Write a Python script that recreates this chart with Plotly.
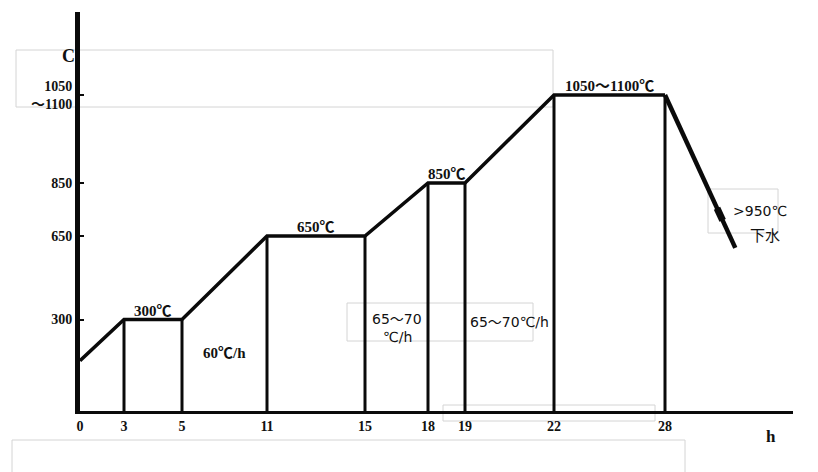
import numpy as np
import plotly.graph_objects as go

# ---------------- data ----------------
time_ticks = [0, 3, 5, 11, 15, 18, 19, 22, 28]
time_labels = ["0", "3", "5", "11", "15", "18", "19", "22", "28"]

temp_ticks = [300, 650, 850, 1075]
temp_labels = ["300", "650", "850", "1050<br>～1100"]

profile_time = [0, 3, 5, 11, 15, 18, 19, 22, 28, 31.8]
profile_temp = [165, 300, 300, 650, 650, 850, 850, 1075, 1075, 600]

hold_times = [3, 5, 11, 15, 18, 19, 22, 28]

plateau_labels = [(3, 5, 300, "300℃"), (11, 15, 650, "650℃"),
                  (18, 19, 850, "850℃"), (22, 28, 1075, "1050～1100℃")]

# ---------------- schematic (not-to-scale) axis scales ----------------
# The original drawing is a schematic; hours and degrees are placed at these
# drawn positions (plot units), values in between are interpolated.
X_ANCHOR = [0, 44, 102, 187, 285, 348, 385, 474, 585]
T_ANCHOR = [0, 300, 650, 850, 1075]
Y_ANCHOR = [0, 91.5, 175, 228, 316]


def sx(t):
    t = np.asarray(t, dtype=float)
    slope = (X_ANCHOR[-1] - X_ANCHOR[-2]) / (time_ticks[-1] - time_ticks[-2])
    inside = np.interp(t, time_ticks, X_ANCHOR)
    return np.where(t > time_ticks[-1], X_ANCHOR[-1] + (t - time_ticks[-1]) * slope, inside)


def sy(v):
    v = np.asarray(v, dtype=float)
    return np.interp(v, T_ANCHOR, Y_ANCHOR)


# plot frame in pixels
W, H = 818, 472
L, R, T, B = 80, 25, 12, 61
PW, PH = W - L - R, H - T - B

fig = go.Figure()

px_t = sx(profile_time)
py_t = sy(profile_temp)

# main heating curve (up to end of 28 h hold)
fig.add_trace(go.Scatter(x=px_t[:-1], y=py_t[:-1], mode="lines",
                         line=dict(color="#0a0a0a", width=3.5), hoverinfo="skip"))
# quench segment (thicker)
fig.add_trace(go.Scatter(x=px_t[-2:], y=py_t[-2:], mode="lines",
                         line=dict(color="#0a0a0a", width=4.5), hoverinfo="skip"))
# blob on quench line
f0, f1 = 0.74, 0.82
bx = [px_t[-2] + f0 * (px_t[-1] - px_t[-2]), px_t[-2] + f1 * (px_t[-1] - px_t[-2])]
by = [py_t[-2] + f0 * (py_t[-1] - py_t[-2]), py_t[-2] + f1 * (py_t[-1] - py_t[-2])]
fig.add_trace(go.Scatter(x=bx, y=by, mode="lines",
                         line=dict(color="#0a0a0a", width=7), hoverinfo="skip"))

# vertical drop lines
hold_temp = np.interp(hold_times, profile_time, profile_temp)
for t, v in zip(hold_times, hold_temp):
    xx = float(sx(t))
    fig.add_trace(go.Scatter(x=[xx, xx], y=[0, float(sy(v))], mode="lines",
                             line=dict(color="#0a0a0a", width=3), hoverinfo="skip"))

serif = "Liberation Serif, Noto Sans CJK SC, serif"
sans = "DejaVu Sans, Noto Sans CJK SC, sans-serif"

ann = []
for t1, t2, v, txt in plateau_labels:
    ann.append(dict(x=float((sx(t1) + sx(t2)) / 2), y=float(sy(v)), text="<b>%s</b>" % txt,
                    showarrow=False, yshift=9, xref="x", yref="y",
                    font=dict(family=serif, size=15, color="#111")))


def add_text(xp, yp, txt, fam=serif, size=13):
    ann.append(dict(x=(xp - L) / PW, y=(H - B - yp) / PH, text=txt, showarrow=False,
                    xref="paper", yref="paper", xanchor="center", yanchor="middle",
                    font=dict(family=fam, size=size, color="#111")))


add_text(68, 56, "<b>C</b>", size=18)
add_text(771, 436, "<b>h</b>", size=17)
add_text(224, 353, "<b>60℃/h</b>", size=15)
add_text(397, 319, "65～70", fam=sans, size=14)
add_text(397, 337, "℃/h", fam=sans, size=14)
add_text(509, 322, "65～70℃/h", fam=sans, size=14)
add_text(760, 211, "&gt;950℃", fam=sans, size=14)
add_text(765, 234, "下水", fam="Noto Sans CJK SC", size=15)

# faint grey boxes of the scanned page
boxes = [(16, 50, 553, 107), (347, 303, 533, 341), (443, 405, 655, 421),
         (708, 189, 778, 233), (12, 440, 685, 480)]
shapes = []
for x0, y0, x1, y1 in boxes:
    shapes.append(dict(type="rect", xref="paper", yref="paper",
                       x0=(x0 - L) / PW, x1=(x1 - L) / PW,
                       y0=(H - B - y0) / PH, y1=(H - B - y1) / PH,
                       line=dict(color="#d4d4d4", width=1), fillcolor="rgba(0,0,0,0)",
                       layer="below"))

fig.update_layout(
    width=W, height=H, autosize=False,
    margin=dict(l=L, r=R, t=T, b=B),
    paper_bgcolor="white", plot_bgcolor="white",
    showlegend=False,
    annotations=ann, shapes=shapes,
    xaxis=dict(range=[0, PW], showgrid=False, zeroline=False,
               showline=True, linecolor="#0a0a0a", linewidth=3,
               tickvals=[float(v) for v in sx(time_ticks)],
               ticktext=["<b>%s</b>" % s for s in time_labels],
               ticks="", tickfont=dict(family=serif, size=14, color="#111"),
               fixedrange=True),
    yaxis=dict(range=[0, PH], showgrid=False, zeroline=False,
               showline=True, linecolor="#0a0a0a", linewidth=5,
               tickvals=[float(v) for v in sy(temp_ticks)],
               ticktext=["<b>%s</b>" % s for s in temp_labels],
               ticks="inside", ticklen=4, tickwidth=2, tickcolor="#0a0a0a",
               tickfont=dict(family=serif, size=14, color="#111"),
               fixedrange=True),
)

fig.write_html("out.html", config={"displayModeBar": False},
               post_script="document.body.style.margin='0';document.body.style.overflow='hidden';")
